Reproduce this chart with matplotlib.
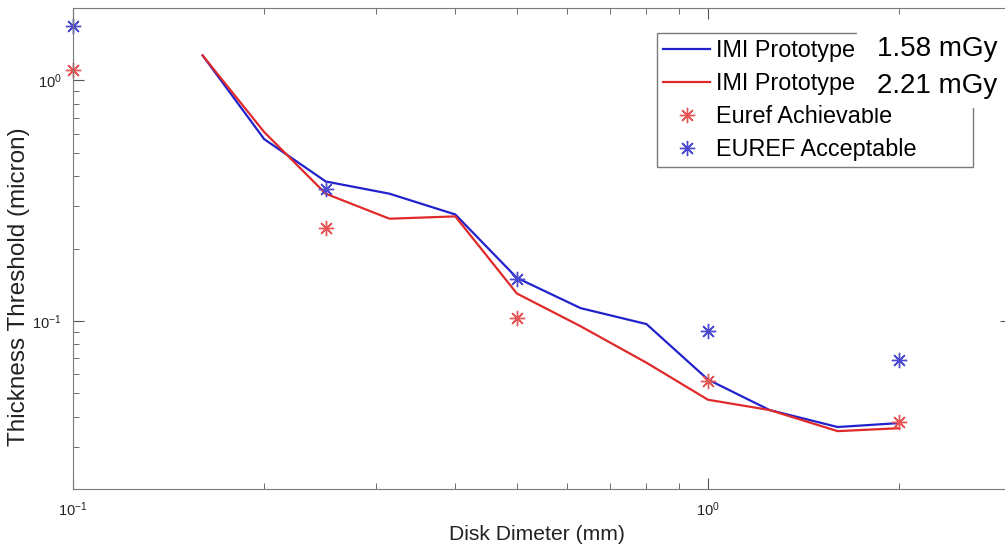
import numpy as np
import matplotlib
matplotlib.use("Agg")
import matplotlib.pyplot as plt
from matplotlib.patches import Rectangle

plt.rcParams['font.family'] = ['Liberation Sans', 'DejaVu Sans']
plt.rcParams['mathtext.fontset'] = 'custom'
plt.rcParams['mathtext.rm'] = 'Liberation Sans'

# disk diameter (mm) and thickness threshold (micron)
diam = [0.16, 0.2, 0.25, 0.315, 0.4, 0.5, 0.63, 0.8, 1.0, 1.25, 1.6, 2.0]
imi_158 = [1.27, 0.57, 0.38, 0.338, 0.277, 0.151, 0.113, 0.097, 0.057, 0.0426, 0.0362, 0.0376]
imi_221 = [1.27, 0.61, 0.338, 0.266, 0.272, 0.13, 0.095, 0.067, 0.047, 0.0426, 0.0348, 0.0358]

euref_diam = [0.1, 0.25, 0.5, 1.0, 2.0]
euref_achievable = [1.10, 0.244, 0.103, 0.056, 0.038]
euref_acceptable = [1.68, 0.352, 0.150, 0.091, 0.069]

W, H = 1005, 546
fig = plt.figure(figsize=(W / 100, H / 100), dpi=100)
# axes: left spine x=73, bottom y=489, top y=8, right (x=3) just past the image edge
ax = fig.add_axes([73 / W, 1 - 489 / H, (1011 - 73) / W, (489 - 8) / H])

asterisk = (8, 2, 0)
ax.loglog(diam, imi_158, color='#2222cc', lw=1.6, label='IMI Prototype')
ax.loglog(diam, imi_221, color='#e02a2a', lw=1.6, label='IMI Prototype')
ax.loglog(euref_diam, euref_achievable, ls='none', marker=asterisk, ms=11, mew=1.0,
          color='#e85555', label='Euref Achievable', clip_on=False)
ax.loglog(euref_diam, euref_acceptable, ls='none', marker=asterisk, ms=11, mew=1.0,
          color='#4a4ad0', label='EUREF Acceptable', clip_on=False)

ax.set_xlim(0.1, 3)
ax.set_ylim(0.02, 2)

# axis labels placed by hand so they stay inside the picture
fig.text(537 / W, 1 - 535 / H, 'Disk Dimeter (mm)', fontsize=15.2,
         ha='center', va='center', color='#222222')
fig.text(19 / W, 1 - 287 / H, 'Thickness Threshold (micron)', fontsize=17.5,
         rotation=90, ha='center', va='center', color='#222222')

for s in ax.spines.values():
    s.set_color('#7a7a7a')
ax.tick_params(which='both', direction='in', top=True, right=True,
               color='#555555', labelsize=10.5, labelcolor='#222222')
ax.tick_params(which='major', length=8, pad=8)
ax.tick_params(which='minor', length=4.5)

leg = ax.legend(loc='upper left', bbox_to_anchor=(657 / W, 1 - 163 / H, 316 / W, 130 / H),
                bbox_transform=fig.transFigure, mode='expand', borderaxespad=0,
                fontsize=16.8, fancybox=False, edgecolor='#7a7a7a', framealpha=1,
                handlelength=2.0, handletextpad=0.25, labelspacing=0.42,
                borderpad=0.27)
leg.get_frame().set_linewidth(1.0)

# white patch with the dose labels laid over the legend
fig.patches.append(Rectangle((857 / W, 1 - 108 / H), (W - 857) / W, (108 - 27) / H,
                             transform=fig.transFigure, facecolor='white',
                             edgecolor='none', zorder=5))
fig.text(877 / W, 1 - 49 / H, '1.58 mGy', fontsize=20, va='center', zorder=6)
fig.text(877 / W, 1 - 86 / H, '2.21 mGy', fontsize=20, va='center', zorder=6)

fig.savefig('out.png', dpi=100)
